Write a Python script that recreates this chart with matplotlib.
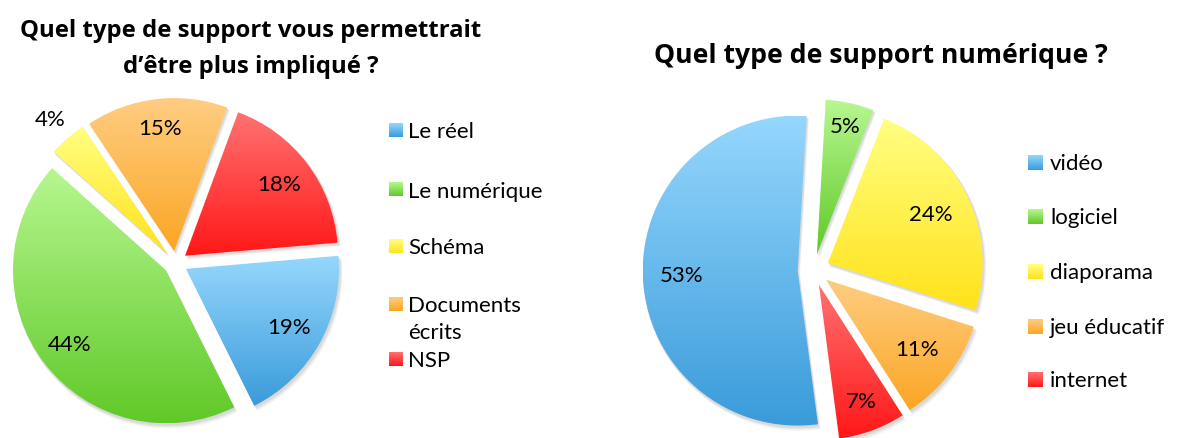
import numpy as np
import matplotlib
matplotlib.use("Agg")
import matplotlib.pyplot as plt
from matplotlib.colors import LinearSegmentedColormap
from matplotlib.patches import Wedge, Rectangle

plt.rcParams['font.family'] = ['Lato', 'DejaVu Sans']

# ---------------- data ----------------
left_title = "Quel type de support vous permettrait\nd’être plus impliqué ?"
left_labels = ["Le réel", "Le numérique", "Schéma", "Documents\nécrits", "NSP"]
left_values = [19, 44, 4, 15, 18]

right_title = "Quel type de support numérique ?"
right_labels = ["vidéo", "logiciel", "diaporama", "jeu éducatif", "internet"]
right_values = [53, 5, 24, 11, 7]

# gradient colours (top -> bottom) per category position
grad_top = ["#95d7fd", "#b7f790", "#ffff82", "#ffcd82", "#ff7272"]
grad_bot = ["#3a9bda", "#60c928", "#ffe21a", "#fba623", "#ff1717"]

# ---------------- layout (pixels) ----------------
W, H = 1181, 439
fig = plt.figure(figsize=(W / 100, H / 100), dpi=100)
ax = fig.add_axes([0, 0, 1, 1])


def Y(py):
    return H - py


def gradient_into(patch, top, bot, z):
    path = patch.get_patch_transform().transform_path(patch.get_path())
    ext = path.get_extents()
    cmap = LinearSegmentedColormap.from_list("g", [top, bot])
    arr = np.linspace(0, 1, 256).reshape(-1, 1)
    im = ax.imshow(arr, cmap=cmap, extent=[ext.x0, ext.x1, ext.y0, ext.y1],
                   origin="upper", aspect="auto", zorder=z, interpolation="bilinear")
    im.set_clip_path(patch)


def draw_pie(values, center, radius, start, explode, pct_dist, fontsize):
    wedges, _ = ax.pie(values, center=center, radius=radius, startangle=start,
                       counterclock=False, explode=[explode] * len(values),
                       frame=True, wedgeprops=dict(linewidth=0))
    for i, w in enumerate(wedges):
        # soft shadow
        for off, a in [(4, 0.06), (3, 0.08), (2, 0.10)]:
            sh = Wedge((w.center[0] + off * 0.6, w.center[1] - off), w.r + off * 0.3,
                       w.theta1, w.theta2, facecolor="#555555", alpha=a,
                       linewidth=0, zorder=1)
            ax.add_patch(sh)
        w.set_facecolor("none")
        w.set_zorder(3)
        gradient_into(w, grad_top[i], grad_bot[i], 2)
        thm = np.deg2rad((w.theta1 + w.theta2) / 2)
        d = pct_dist[i] * w.r
        ax.text(w.center[0] + d * np.cos(thm), w.center[1] + d * np.sin(thm),
                f"{values[i]}%", ha="center", va="center", fontsize=fontsize,
                color="black", zorder=5)
    return wedges


draw_pie(left_values, (175.5, Y(264)), 153, 4.9, 12,
         [0.77, 0.79, 1.17, 0.81, 0.77], 16)
draw_pie(right_values, (813.5, Y(271)), 155, 277.5, 15.8,
         [0.75, 0.85, 0.74, 0.74, 0.80], 16)


def legend(labels, x_sq, x_txt, ys, size, fontsize):
    for i, (lab, py) in enumerate(zip(labels, ys)):
        r = Rectangle((x_sq, Y(py) - size / 2), size, size, facecolor="none",
                      linewidth=0, zorder=3)
        ax.add_patch(r)
        gradient_into(r, grad_top[i], grad_bot[i], 2)
        ax.text(x_txt, Y(py) + size / 2 + 1.5, lab, ha="left", va="top",
                fontsize=fontsize, color="black", linespacing=1.4)


legend(left_labels, 389, 408, [131, 190, 247, 305, 360], 14, 16)
legend(right_labels, 1028, 1050, [163, 217, 272, 327, 380], 15, 16)

ax.text(251, Y(49), left_title, ha="center", va="center", fontsize=17.2,
        fontweight="bold", linespacing=1.7, family=["Open Sans", "DejaVu Sans"])
ax.text(881, Y(56), right_title, ha="center", va="center", fontsize=19.2,
        fontweight="bold", family=["Open Sans", "DejaVu Sans"])

ax.set_xlim(0, W)
ax.set_ylim(0, H)
ax.axis("off")
fig.savefig("out.png", dpi=100, facecolor="white")
